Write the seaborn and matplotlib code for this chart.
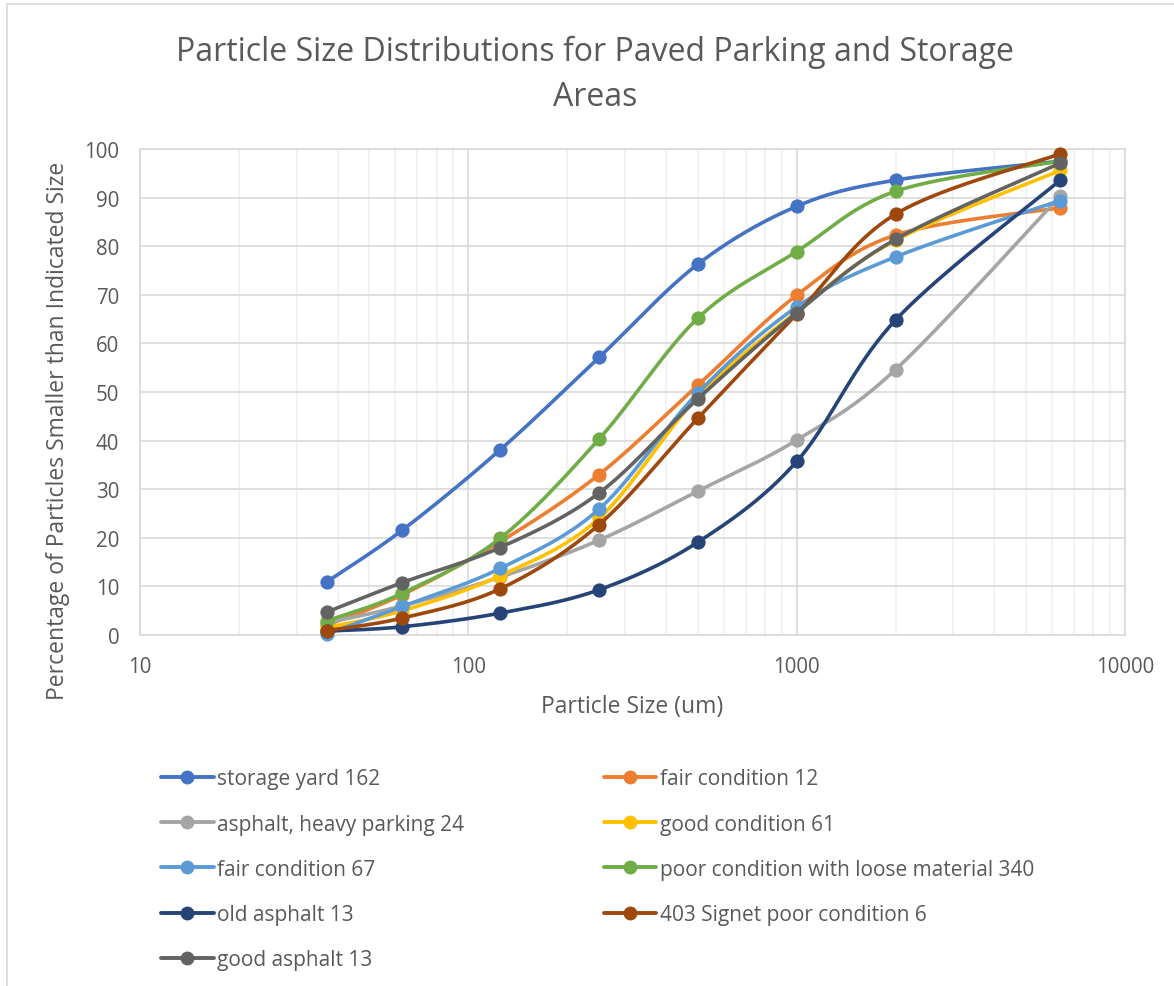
import numpy as np
import pandas as pd
import matplotlib
matplotlib.use("Agg")
import matplotlib.pyplot as plt
from matplotlib.lines import Line2D
from matplotlib.patches import Rectangle
from matplotlib.ticker import LogLocator, FixedLocator, NullFormatter
import seaborn as sns

# ---------------- data ----------------
sizes = [37, 63, 125, 250, 500, 1000, 2000, 6350]

storage_yard_162 = [10.9, 21.6, 38.1, 57.1, 76.3, 88.2, 93.6, 97.5]
fair_condition_12 = [2.0, 8.3, 19.2, 33.0, 51.4, 69.9, 82.3, 87.9]
asphalt_heavy_parking_24 = [2.5, 6.0, 11.9, 19.5, 29.6, 40.1, 54.6, 90.3]
good_condition_61 = [1.5, 5.0, 12.2, 24.0, 49.0, 66.5, 81.2, 95.6]
fair_condition_67 = [0.2, 5.9, 13.7, 25.9, 49.8, 67.5, 77.8, 89.4]
poor_condition_loose_340 = [2.9, 8.6, 19.9, 40.3, 65.2, 78.9, 91.3, 97.5]
old_asphalt_13 = [0.8, 1.7, 4.5, 9.3, 19.1, 35.7, 64.8, 93.6]
signet_403_poor_6 = [0.9, 3.5, 9.5, 22.7, 44.6, 66.0, 86.6, 99.0]
good_asphalt_13 = [4.7, 10.8, 18.0, 29.2, 48.6, 66.3, 81.4, 97.1]

series_names = [
    "storage yard 162",
    "fair condition 12",
    "asphalt, heavy parking 24",
    "good condition 61",
    "fair condition 67",
    "poor condition with loose material 340",
    "old asphalt 13",
    "403 Signet poor condition 6",
    "good asphalt 13",
]
series_values = [
    storage_yard_162, fair_condition_12, asphalt_heavy_parking_24,
    good_condition_61, fair_condition_67, poor_condition_loose_340,
    old_asphalt_13, signet_403_poor_6, good_asphalt_13,
]
colors = ["#4472C4", "#ED7D31", "#A5A5A5", "#FFC000", "#5B9BD5",
          "#70AD47", "#264478", "#9E480E", "#636363"]

x_ticks = [10, 100, 1000, 10000]
y_ticks = list(range(0, 101, 10))

title = "Particle Size Distributions for Paved Parking and Storage\nAreas"
xlabel = "Particle Size (um)"
ylabel = "Percentage of Particles Smaller than Indicated Size"

# ---------------- style ----------------
sns.set_theme(style="white")
plt.rcParams["font.family"] = ["Open Sans", "DejaVu Sans"]
TXT = "#595959"


def smooth_curve(xs, ys, n=40):
    """Excel-like smoothed line (Catmull-Rom Bezier) in (log10 x, y) space."""
    lx = np.log10(np.asarray(xs, float))
    y = np.asarray(ys, float)
    P = np.column_stack([lx, y])
    m = len(P)
    out = []
    for i in range(m - 1):
        p0 = P[i - 1] if i > 0 else P[i]
        p1 = P[i]
        p2 = P[i + 1]
        p3 = P[i + 2] if i + 2 < m else P[i + 1]
        c1 = p1 + (p2 - p0) / 6.0
        c2 = p2 - (p3 - p1) / 6.0
        t = np.linspace(0, 1, n, endpoint=(i == m - 2))[:, None]
        b = ((1 - t) ** 3) * p1 + 3 * ((1 - t) ** 2) * t * c1 + 3 * (1 - t) * t ** 2 * c2 + t ** 3 * p2
        out.append(b)
    B = np.vstack(out)
    return 10 ** B[:, 0], B[:, 1]


W, H = 1174, 987
fig = plt.figure(figsize=(W / 100, H / 100), dpi=100)
fig.patch.set_facecolor("white")
ax = fig.add_axes([140 / W, 1 - 636 / H, (1125 - 140) / W, (636 - 150) / H])

# chart border
fig.add_artist(Rectangle((7 / W, -0.05), 1.2, 1 - 5 / H + 0.05, transform=fig.transFigure,
                         fill=False, edgecolor="#D9D9D9", linewidth=1.2))

ax.set_xscale("log")
ax.set_xlim(10, 10000)
ax.set_ylim(0, 100)

for k, (name, vals, col) in enumerate(zip(series_names, series_values, colors)):
    sx, sy = smooth_curve(sizes, vals)
    df_line = pd.DataFrame({"x": sx, "y": sy})
    sns.lineplot(data=df_line, x="x", y="y", ax=ax, color=col, linewidth=2.6,
                 sort=False, estimator=None, zorder=3 + 2 * k, solid_capstyle="round")
    df_pts = pd.DataFrame({"x": sizes, "y": vals})
    sns.scatterplot(data=df_pts, x="x", y="y", ax=ax, color=col, s=105,
                    edgecolor=col, linewidth=0, zorder=4 + 2 * k, clip_on=False)

# grid
ax.xaxis.set_major_locator(FixedLocator(x_ticks))
ax.xaxis.set_minor_locator(LogLocator(base=10, subs=np.arange(2, 10)))
ax.xaxis.set_minor_formatter(NullFormatter())
ax.set_xticklabels([str(v) for v in x_ticks])
ax.yaxis.set_major_locator(FixedLocator(y_ticks))
ax.set_yticklabels([str(v) for v in y_ticks])
ax.grid(which="major", axis="both", color="#D9D9D9", linewidth=1.2, zorder=0)
ax.grid(which="minor", axis="x", color="#F0F0F0", linewidth=1.2, zorder=0)
ax.set_axisbelow(True)
for s in ax.spines.values():
    s.set_color("#D9D9D9")
    s.set_linewidth(1.2)
ax.tick_params(axis="both", which="both", length=0, labelsize=14.8, colors=TXT)
ax.tick_params(axis="x", pad=15)
ax.tick_params(axis="y", pad=15)

ax.set_xlabel(xlabel, fontsize=16.5, color=TXT)
ax.set_ylabel(ylabel, fontsize=16.5, color=TXT)
ax.xaxis.set_label_coords((632 - 140) / 985, -(707 - 636) / 486)
ax.yaxis.set_label_coords(-(140 - 58) / 985, (636 - 431) / 486)
ax.xaxis.label.set_va("center")
ax.yaxis.label.set_va("center")

fig.text(595 / W, 1 - 75 / H, title, ha="center", va="center", fontsize=23,
         color=TXT, linespacing=1.5)

# legend (two columns, row-major like the reference)
handles = [Line2D([0], [0], color=c, linewidth=2.8, marker="o", markersize=10,
                  markeredgewidth=0) for c in colors]
left_idx = [0, 2, 4, 6, 8]
right_idx = [1, 3, 5, 7]
common = dict(frameon=False, fontsize=15, handlelength=2.5, handletextpad=0.15,
              labelspacing=1.16, borderpad=0, labelcolor=TXT, loc="upper left")
leg1 = fig.legend([handles[i] for i in left_idx], [series_names[i] for i in left_idx],
                  bbox_to_anchor=(151 / W, 1 - 759 / H), **common)
leg2 = fig.legend([handles[i] for i in right_idx], [series_names[i] for i in right_idx],
                  bbox_to_anchor=(594 / W, 1 - 759 / H), **common)

fig.savefig("out.png", dpi=100, facecolor="white")
